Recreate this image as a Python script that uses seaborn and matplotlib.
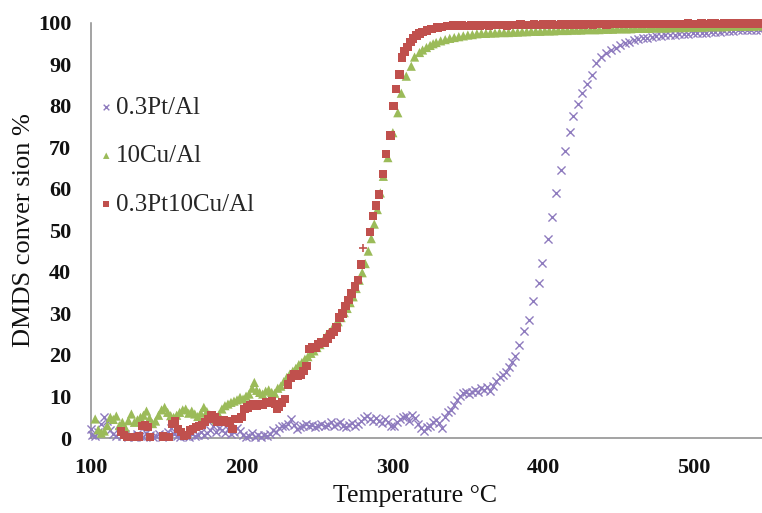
import matplotlib
matplotlib.use("Agg")
import matplotlib.pyplot as plt
import pandas as pd
import seaborn as sns

# --- 0.3Pt/Al -------------------------------------------------------------
pt_temp = [100, 101, 103, 105, 107, 109, 111, 113, 115, 117, 119, 121, 123, 125, 127,
           129, 131, 133, 135, 137, 139, 141, 143, 145, 147, 149, 151, 153, 155, 157,
           159, 161, 163, 165, 167, 169, 171, 173, 175, 177, 179, 181, 183, 185, 187,
           189, 191, 193, 195, 197, 199, 201, 203, 205, 207, 209, 211, 213, 215, 217,
           219, 221, 223, 225, 227, 229, 231, 233, 235, 237, 239, 241, 243, 245, 247,
           249, 251, 253, 255, 257, 259, 261, 263, 265, 267, 269, 271, 273, 275, 277,
           279, 281, 283, 285, 287, 289, 291, 293, 295, 297, 299, 301, 303, 305, 307,
           309, 311, 313, 315, 317, 319, 321, 323, 325, 327, 329, 331, 333, 335, 337,
           339, 341, 343, 345, 347, 349, 351, 353, 355, 357, 359, 361, 363, 365, 367,
           369, 371, 373, 375, 377, 379, 381, 384, 387.5, 390.7, 393.4, 397, 399, 403, 406,
           408.5, 411.6, 414.3, 417.4, 420, 422.8, 426, 429.3, 432, 435, 438, 441.5, 445, 448, 451,
           454, 457, 460, 463, 466, 469, 472, 475, 478, 481, 484, 487, 490, 493, 496,
           499, 502, 505, 508, 511, 514, 517, 520, 523, 526, 529, 532, 535, 538, 541, 544]
pt_conv = [2.2, 0.8, 0.5, 1.5, 3.5, 5.0, 4.0, 2.0, 1.0, 0.5, 1.5, 0.5, 1.0, 0.3, 0.8,
           0.2, 1.0, 0.5, 0.3, 1.2, 0.8, 0.2, 0.5, 1.0, 0.3, 0.8, 1.5, 2.5, 1.0, 0.5,
           0.2, 0.8, 0.5, 0.3, 1.0, 0.5, 0.8, 1.5, 0.8, 1.2, 2.0, 2.9, 1.5, 2.5, 2.0,
           1.2, 2.2, 1.0, 1.5, 2.5, 1.8, 0.8, 0.3, 0.5, 1.2, 0.3, 0.8, 0.2, 0.8, 0.5,
           1.0, 2.0, 1.5, 2.5, 3.0, 2.8, 3.5, 4.5, 3.2, 2.2, 2.6, 3.0, 3.4, 2.8, 3.2,
           2.6, 3.0, 3.5, 2.8, 3.2, 3.8, 3.0, 3.4, 3.8, 3.0, 2.6, 3.2, 3.6, 3.0, 3.4,
           4.2, 4.8, 5.3, 4.5, 4.2, 4.8, 4.2, 3.6, 4.5, 3.8, 3.0, 2.9, 3.8, 4.5, 5.0,
           5.3, 4.2, 5.5, 4.8, 3.5, 2.4, 1.8, 2.6, 3.0, 3.8, 4.4, 3.6, 2.4, 5.0, 6.2,
           6.8, 8.0, 9.2, 10.2, 10.8, 11.0, 10.6, 11.2, 11.5, 11.0, 12.0, 11.6, 12.2, 11.4, 12.6,
           13.8, 14.6, 15.2, 15.8, 17.0, 18.2, 19.7, 22.3, 25.7, 28.5, 33.1, 37.4, 42.2, 48.0, 53.2,
           58.9, 64.5, 69.0, 73.6, 77.4, 80.3, 83.0, 85.1, 87.5, 90.2, 91.6, 92.6, 93.3, 94.0, 94.6,
           95.0, 95.4, 95.8, 96.0, 96.2, 96.4, 96.5, 96.7, 96.8, 96.9, 97.0, 97.1, 97.2, 97.2, 97.3,
           97.4, 97.4, 97.5, 97.6, 97.7, 97.8, 97.8, 97.9, 98.0, 98.0, 98.1, 98.1, 98.1, 98.2, 98.2, 98.2]

# --- 10Cu/Al ---------------------------------------------------------------
cu_temp = [103, 105, 107, 109, 111, 113, 115, 117, 119, 121, 123, 125, 127, 129, 131,
           133, 135, 137, 139, 141, 143, 145, 147, 149, 151, 153, 155, 157, 159, 161,
           163, 165, 167, 169, 171, 173, 175, 177, 179, 181, 183, 185, 187, 189, 191,
           193, 195, 197, 199, 201, 203, 205, 207, 208.5, 210, 212, 214, 216, 218, 220,
           222, 224, 226, 228, 230, 232, 234, 236, 238, 240, 242, 244, 246, 248, 250,
           252, 254, 256, 258, 260, 262, 264, 266, 268, 270, 272, 274, 276, 278, 280,
           282, 284, 286, 288, 290, 292, 294, 297, 300.3, 303.6, 305.9, 309.2, 312.5, 314.7, 318,
           320, 322.6, 325, 327, 329, 332, 335, 338, 341, 344, 347, 350, 353, 356, 359,
           362, 365, 368, 371, 374, 377, 380, 383, 386, 389, 392, 395, 398, 401, 404,
           407, 410, 413, 416, 419, 422, 425, 428, 431, 434, 437, 440, 443, 446, 449,
           452, 455, 458, 461, 464, 467, 470, 473, 476, 479, 482, 485, 488, 491, 494,
           497, 500, 503, 506, 509, 512, 515, 518, 521, 524, 527, 530, 533, 536, 539, 542, 545]
cu_conv = [4.6, 2.0, 1.2, 1.7, 3.0, 5.0, 4.5, 5.3, 3.0, 3.8, 2.5, 4.2, 5.8, 3.8, 4.4,
           5.0, 5.5, 6.5, 4.8, 3.5, 4.1, 5.5, 6.8, 7.4, 6.2, 5.4, 5.0, 5.5, 6.2, 6.8,
           7.0, 6.0, 6.5, 5.8, 5.2, 6.0, 7.4, 6.4, 5.6, 5.0, 4.4, 5.6, 7.0, 7.8, 8.2,
           8.6, 8.9, 9.2, 9.8, 9.4, 10.1, 10.6, 12.0, 13.4, 11.5, 11.0, 10.6, 11.3, 11.6, 11.0,
           10.8, 12.0, 12.5, 13.6, 14.6, 15.4, 16.1, 16.8, 17.7, 18.2, 19.0, 19.6, 20.4, 21.0, 21.8,
           22.5, 23.4, 24.5, 25.4, 26.2, 27.0, 28.0, 29.0, 30.2, 31.2, 32.6, 34.0, 36.0, 38.0, 39.8,
           42.0, 45.0, 48.0, 51.5, 55.0, 59.0, 63.0, 67.5, 73.5, 78.3, 83.0, 87.1, 89.5, 91.7, 92.8,
           93.4, 94.0, 94.5, 94.9, 95.2, 95.6, 95.9, 96.2, 96.4, 96.6, 96.8, 97.0, 97.1, 97.3, 97.4,
           97.4, 97.5, 97.5, 97.6, 97.6, 97.6, 97.7, 97.7, 97.8, 97.8, 97.9, 97.9, 97.9, 98.0, 98.0,
           98.0, 98.1, 98.1, 98.1, 98.2, 98.2, 98.2, 98.3, 98.3, 98.3, 98.3, 98.4, 98.4, 98.4, 98.5,
           98.5, 98.5, 98.5, 98.6, 98.6, 98.6, 98.6, 98.7, 98.7, 98.7, 98.7, 98.8, 98.8, 98.8, 98.8,
           98.9, 98.9, 98.9, 98.9, 99.0, 99.0, 99.0, 99.0, 99.0, 99.1, 99.1, 99.1, 99.1, 99.1, 99.1, 99.2, 99.2]

# --- 0.3Pt10Cu/Al ----------------------------------------------------------
ptcu_temp = [120, 122, 124, 126, 128, 130, 132, 134, 136, 138, 139.5, 148, 150, 152, 154,
             156, 158, 160, 162, 164, 166, 168, 170, 172, 174, 176, 178, 180, 182, 184,
             186, 188, 190, 192, 194, 195.5, 198, 200, 202, 204, 206, 208, 210, 212, 214,
             216, 218, 220, 222, 223.5, 225, 227, 229, 231, 233, 235, 237, 239, 241, 243,
             245, 247, 249, 251, 253, 255, 257, 259, 261, 263, 265, 267, 269, 271, 273,
             275, 277, 279, 285.3, 287.3, 289, 291.3, 293.7, 295.7, 298.7, 300.8, 302.5, 304.7, 306.5,
             308, 310, 312, 313.6, 316, 318, 320, 323, 326, 330, 333, 336, 340, 343, 346,
             349, 352, 355, 358, 361, 364, 367, 370, 373, 376, 379, 382, 385, 388, 391,
             394, 397, 400, 403, 406, 409, 412, 415, 418, 421, 424, 427, 430, 433, 436,
             439, 442, 445, 448, 451, 454, 457, 460, 463, 466, 469, 472, 475, 478, 481,
             484, 487, 490, 493, 496, 499, 502, 505, 508, 511, 514, 517, 520, 523, 526,
             529, 532, 535, 538, 541, 544]
ptcu_conv = [1.6, 0.8, 0.2, 0.2, 0.3, 0.2, 0.4, 2.9, 3.2, 2.6, 0.2, 0.4, 0.2, 0.2, 3.4,
             4.0, 2.2, 1.5, 0.5, 0.8, 1.8, 2.2, 2.6, 2.9, 3.2, 3.8, 4.6, 5.5, 5.0, 4.0,
             3.8, 4.2, 4.0, 3.6, 2.2, 4.6, 4.6, 5.0, 7.0, 7.4, 8.0, 8.2, 7.8, 8.2, 8.0,
             8.6, 8.4, 8.9, 8.2, 7.0, 7.6, 8.6, 9.4, 12.9, 14.4, 15.3, 14.9, 15.2, 16.2, 17.3,
             21.5, 22.0, 21.8, 22.6, 23.0, 23.0, 24.0, 24.9, 25.6, 26.6, 29.0, 30.0, 31.8, 33.2, 34.8,
             36.5, 38.0, 41.8, 49.6, 53.5, 56.0, 58.6, 63.5, 68.3, 72.8, 79.9, 84.0, 87.5, 91.6,
             93.0, 94.2, 95.3, 96.2, 96.9, 97.4, 97.7, 98.1, 98.4, 98.8, 99.0, 99.1, 99.3, 99.3, 99.3,
             99.2, 99.3, 99.3, 99.3, 99.4, 99.3, 99.4, 99.4, 99.4, 99.3, 99.4, 99.4, 99.5, 99.4, 99.4,
             99.5, 99.4, 99.5, 99.5, 99.5, 99.4, 99.5, 99.5, 99.5, 99.6, 99.5, 99.5, 99.6, 99.5, 99.6,
             99.6, 99.5, 99.6, 99.6, 99.6, 99.6, 99.6, 99.7, 99.6, 99.6, 99.7, 99.6, 99.7, 99.7, 99.7,
             99.7, 99.7, 99.7, 99.7, 99.8, 99.7, 99.7, 99.8, 99.7, 99.8, 99.8, 99.7, 99.8, 99.8, 99.8,
             99.8, 99.8, 99.8, 99.8, 99.8, 99.8]

# stray cross drawn on the 0.3Pt10Cu/Al curve
cross_temp = [280.4]
cross_conv = [45.7]

series_labels = ["0.3Pt/Al", "10Cu/Al", "0.3Pt10Cu/Al"]
series_colors = ["#8E7BBE", "#9BBB59", "#C0504D"]

x_ticks = [100, 200, 300, 400, 500]
y_ticks = [0, 10, 20, 30, 40, 50, 60, 70, 80, 90, 100]

df_pt = pd.DataFrame({"T": pt_temp, "X": pt_conv})
df_cu = pd.DataFrame({"T": cu_temp, "X": cu_conv})
df_ptcu = pd.DataFrame({"T": ptcu_temp, "X": ptcu_conv})
df_cross = pd.DataFrame({"T": cross_temp, "X": cross_conv})

sns.set_theme(style="white")
plt.rcParams["font.family"] = ["Liberation Serif", "DejaVu Serif"]

fig = plt.figure(figsize=(7.62, 5.13), dpi=100)
ax = fig.add_axes([0.119, 0.146, 0.881, 0.810])

sns.scatterplot(data=df_pt, x="T", y="X", ax=ax, marker="x", s=34,
                color=series_colors[0], linewidth=1.0, label=series_labels[0],
                clip_on=False, zorder=3)
sns.scatterplot(data=df_cu, x="T", y="X", ax=ax, marker="^", s=44,
                color=series_colors[1], edgecolor="none", label=series_labels[1],
                clip_on=False, zorder=4)
sns.scatterplot(data=df_ptcu, x="T", y="X", ax=ax, marker="s", s=36,
                color=series_colors[2], edgecolor="none", label=series_labels[2],
                clip_on=False, zorder=5)
sns.scatterplot(data=df_cross, x="T", y="X", ax=ax, marker="+", s=40,
                color=series_colors[2], linewidth=1.2, legend=False, zorder=6)

ax.set_xlim(100, 545)
ax.set_ylim(0, 100)
ax.set_xticks(x_ticks)
ax.set_yticks(y_ticks)
ax.tick_params(axis="both", length=0, labelsize=16, pad=14, colors="#111111")
for lab in ax.get_xticklabels() + ax.get_yticklabels():
    lab.set_fontweight("bold")

for side in ["top", "right"]:
    ax.spines[side].set_visible(False)
for side in ["left", "bottom"]:
    ax.spines[side].set_color("#8a8a8a")
    ax.spines[side].set_linewidth(1.1)

ax.set_xlabel("Temperature °C", fontsize=18.5, color="#111111")
ax.set_ylabel("DMDS conver sion %", fontsize=19, color="#111111")
ax.xaxis.set_label_coords(0.483, -0.113)
ax.yaxis.set_label_coords(-0.083, 0.5)

leg = ax.legend(loc="upper left", bbox_to_anchor=(0.012, 0.822), frameon=False,
                fontsize=18, markerscale=0.7, handlelength=0.6, handletextpad=0.1,
                labelspacing=1.03, borderpad=0.0, borderaxespad=0.0)

fig.savefig("out.png", dpi=100)
